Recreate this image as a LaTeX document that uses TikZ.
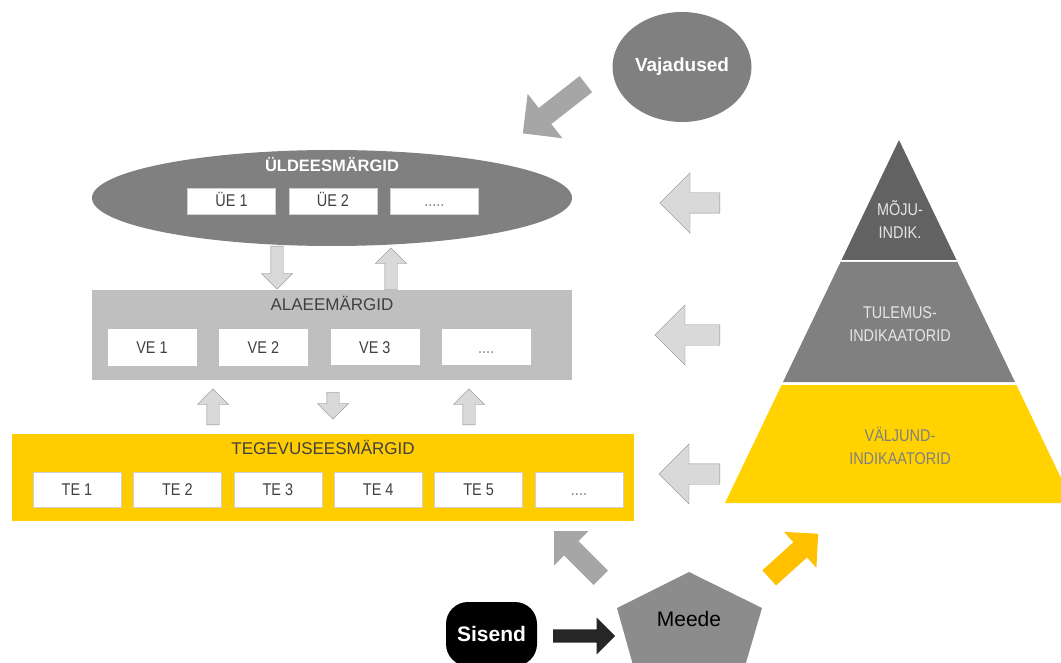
\documentclass[tikz,border=0pt]{standalone}
\usepackage{fontspec}
\setmainfont{Liberation Sans}
\newfontfamily\narrowsf[FakeStretch=0.85]{Liberation Sans}
\usetikzlibrary{shapes.geometric,shapes.arrows,positioning}

\definecolor{midgray}{HTML}{808080}
\definecolor{lightpanel}{HTML}{BFBFBF}
\definecolor{arrowfill}{HTML}{D9D9D9}
\definecolor{arrowline}{HTML}{8C8C8C}
\definecolor{boxline}{HTML}{CFCFCF}
\definecolor{darktext}{HTML}{404040}
\definecolor{tegyellow}{HTML}{FFCC00}
\definecolor{pyryellow}{HTML}{FFD200}
\definecolor{pyrdark}{HTML}{626262}
\definecolor{diaggray}{HTML}{A6A6A6}
\definecolor{diagyellow}{HTML}{FFC000}
\definecolor{meedegray}{HTML}{8C8C8C}
\definecolor{blackarrow}{HTML}{262626}

\newcommand\boxfont{\narrowsf\fontsize{17}{20}\selectfont}
\newcommand\headfont{\fontsize{17}{20}\selectfont}
\newcommand\pyrfont{\narrowsf\fontsize{17}{23}\selectfont}

\begin{document}
\begin{tikzpicture}[x=1pt,y=-1pt,align=center,node distance=12pt]
\tikzstyle{box}=[fill=white,draw=boxline,inner sep=0pt,minimum width=88pt,text height=12pt,text depth=0pt,font=\boxfont,text=darktext]
\tikzstyle{dots}=[box,text=midgray]
\tikzstyle{heading}=[font=\headfont,text=darktext]
\tikzstyle{pyrlabel}=[font=\pyrfont,text=white!90!black]
\tikzstyle{blockarrow}=[single arrow,anchor=tail,inner xsep=0pt]
\tikzstyle{smallarrow}=[blockarrow,fill=arrowfill,draw=arrowline,inner ysep=6pt,single arrow head extend=9.5pt,minimum width=31pt]
\tikzstyle{sidearrow}=[blockarrow,fill=arrowfill,draw=arrowline,inner ysep=10pt,single arrow head extend=20pt,minimum width=60pt,rotate=180]
\tikzstyle{bigarrow}=[blockarrow,inner ysep=10pt,single arrow head extend=14pt,minimum width=48pt,minimum height=66pt]

\useasboundingbox (0,0) rectangle (1061,663);
\clip (0,0) rectangle (1061,663);

% needs
\node[ellipse,fill=midgray,minimum width=139pt,minimum height=110pt,inner sep=0pt,
  text=white,font=\bfseries\fontsize{19}{22}\selectfont] (vaj) at (682,67) {Vajadused};
\node[blockarrow,fill=diaggray,inner ysep=10pt,single arrow head extend=18pt,
  minimum width=56pt,minimum height=80pt,rotate=218] (vajarrow) at (586,84) {};

% general goals
\node[ellipse,fill=midgray,minimum width=480pt,minimum height=96pt] (uld) at (332,198) {};
\node[text=white,font=\bfseries\fontsize{16.5}{20}\selectfont] (uldtitle) at (332,165) {ÜLDEESMÄRGID};
\node[box,minimum height=26pt] (ue1) at (231.5,201) {ÜE 1};
\node[box,minimum height=26pt] (ue2) [right = 13pt of ue1] {ÜE 2};
\node[dots,minimum height=26pt] (ue3) [right = 13pt of ue2] {.....};

% sub goals
\node[fill=lightpanel,minimum width=480pt,minimum height=90pt] (ala) at (332,335) {};
\node[heading] (alatitle) at (332,303) {ALAEEMÄRGID};
\node[box,draw=white,minimum height=36pt] (ve1) at (152,347) {VE 1};
\node[box,draw=white,minimum height=36pt] (ve2) [right = 23pt of ve1] {VE 2};
\node[box,draw=white,minimum height=35pt] (ve3) [right = 23pt of ve2] {VE 3};
\node[dots,draw=white,minimum height=35pt] (ve4) [right = 23pt of ve3] {....};

% activity goals
\node[fill=tegyellow,minimum width=622pt,minimum height=87pt] (teg) at (323,477.5) {};
\node[heading] (tegtitle) at (323,447) {TEGEVUSEESMÄRGID};
\node[box,minimum height=35pt] (te1) at (77,489.5) {TE 1};
\node[box,minimum height=35pt] (te2) [right = 12pt of te1] {TE 2};
\node[box,minimum height=35pt] (te3) [right = 12pt of te2] {TE 3};
\node[box,minimum height=35pt] (te4) [right = 12pt of te3] {TE 4};
\node[box,minimum height=35pt] (te5) [right = 12pt of te4] {TE 5};
\node[dots,minimum height=35pt] (te6) [right = 12pt of te5] {....};

% arrows between levels
\node[smallarrow,minimum height=43pt,rotate=-90] (down1) at (277,246) {};
\node[smallarrow,minimum height=42pt,rotate=90] (up1) at (391,290) {};
\node[smallarrow,minimum height=36pt,rotate=90] (up2) at (213,425) {};
\node[smallarrow,minimum height=27pt,rotate=-90] (down2) at (333,392) {};
\node[smallarrow,minimum height=36pt,rotate=90] (up3) at (469,425) {};

% pyramid
\fill[pyrdark] (899,140) -- (956.5,260) -- (841.5,260) -- cycle;
\fill[midgray] (840.6,262) -- (957.4,262) -- (1015,382) -- (783,382) -- cycle;
\fill[pyryellow] (781.6,385) -- (1016.4,385) -- (1073,503) -- (725,503) -- cycle;
\node[pyrlabel] (moju) at (900,220) {MÕJU-\\INDIK.};
\node[pyrlabel] (tulemus) at (900,324) {TULEMUS-\\INDIKAATORID};
\node[pyrlabel,text=midgray] (valjund) at (900,446) {VÄLJUND-\\INDIKAATORID};

\node[sidearrow,minimum height=60pt] (side1) at (720,203) {};
\node[sidearrow,minimum height=65pt] (side2) at (720,335) {};
\node[sidearrow,minimum height=61pt] (side3) at (720,474) {};

% input and measure
\fill[meedegray] (689,572) -- (762,608) -- (738,690) -- (640,690) -- (617,608) -- cycle;
\node[font=\fontsize{21}{24}\selectfont] (meede) at (689,619) {Meede};
\node[fill=black,rounded corners=22pt,minimum width=91pt,minimum height=64pt,
  text=white,font=\bfseries\fontsize{21}{24}\selectfont] (sisend) at (491.5,634) {Sisend};

\node[blockarrow,fill=blackarrow,inner ysep=6.5pt,single arrow head extend=12pt,
  minimum width=37pt,minimum height=62pt] (inarrow) at (553,636) {};
\node[bigarrow,fill=diaggray,rotate=135] (outgray) at (601,578) {};
\node[bigarrow,fill=diagyellow,rotate=42] (outyellow) at (769,578) {};
\end{tikzpicture}
\end{document}
